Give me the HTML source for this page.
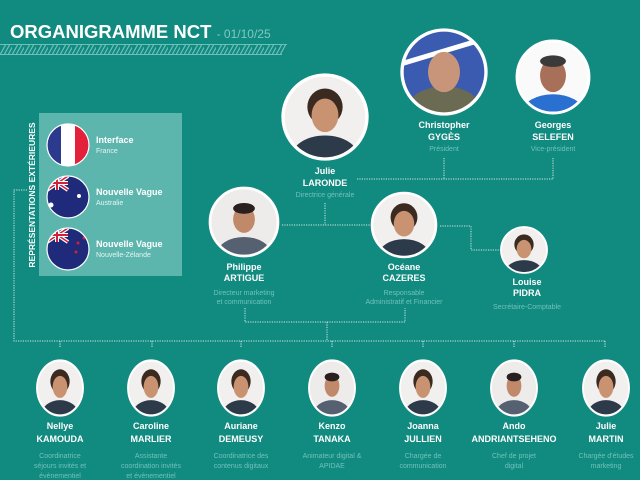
<!DOCTYPE html>
<html><head><meta charset="utf-8"><style>
html,body{margin:0;padding:0;background:#118a80;}
svg{display:block}
text{font-family:"Liberation Sans",sans-serif;}
.n{font-weight:bold;font-size:9px;fill:#fff;text-anchor:middle}
.r{font-size:7px;fill:#6fc3ba;text-anchor:middle}
.l{stroke:#cfe9e5;stroke-width:1;stroke-dasharray:1.2 1.2;fill:none}
</style></head><body>
<svg width="640" height="480" viewBox="0 0 640 480">
<defs>
<clipPath id="c"><circle r="50"/></clipPath>
<g id="pw"><g clip-path="url(#c)"><circle r="50" fill="#f2f0ee"/><ellipse cy="48" rx="40" ry="26" fill="#2d3a4a"/><ellipse cy="-12" rx="21" ry="22" fill="#3a2a20"/><ellipse cy="-2" rx="16" ry="20" fill="#c99372"/></g><circle r="50" fill="none" stroke="#fff" stroke-width="4"/></g>
<g id="pm"><g clip-path="url(#c)"><circle r="50" fill="#eeecea"/><ellipse cy="48" rx="40" ry="26" fill="#556070"/><ellipse cy="-4" rx="16" ry="20" fill="#c08a6a"/><ellipse cy="-20" rx="16" ry="8" fill="#2a2020"/></g><circle r="50" fill="none" stroke="#fff" stroke-width="4"/></g>
<pattern id="zz" width="12" height="11" patternUnits="userSpaceOnUse"><path d="M0 11 L6 0 M4 11 L10 0 M8 11 L14 0" stroke="#6cc0b8" stroke-width="1.2"/></pattern>
</defs>
<rect width="640" height="480" fill="#118a80"/>
<text x="10" y="38" font-size="18.5" font-weight="bold" fill="#fff">ORGANIGRAMME NCT <tspan font-size="12" font-weight="normal" fill="#7fcac2">- 01/10/25</tspan></text>
<polygon points="0,44 287,44 281,55 0,55" fill="url(#zz)"/>
<rect x="0" y="44" width="287" height="1" fill="#6cc0b8"/><rect x="0" y="54" width="282" height="1" fill="#6cc0b8"/>

<path class="l" d="M444 158V179M553 158V179M357 179H553"/>
<path class="l" d="M325 203V225M282 225H372"/>
<path class="l" d="M440 226H471V250H499"/>
<path class="l" d="M245 308V322H405V308M327 322V341"/>
<path class="l" d="M27 190H14V341H605M60 341V348M152 341V348M241 341V348M332 341V348M423 341V348M514 341V348M605 341V348"/>

<rect x="39" y="113" width="143" height="163" fill="#5db6ae"/>
<text transform="translate(35,195) rotate(-90)" font-size="8.5" font-weight="bold" fill="#fff" text-anchor="middle">REPRÉSENTATIONS EXTÉRIEURES</text>
<clipPath id="f1"><circle cx="68" cy="145" r="21"/></clipPath>
<g clip-path="url(#f1)"><rect x="47" y="124" width="14" height="42" fill="#2b3a8c"/><rect x="61" y="124" width="14" height="42" fill="#fff"/><rect x="75" y="124" width="14" height="42" fill="#e3213a"/></g>
<circle cx="68" cy="145" r="21" fill="none" stroke="#fff" stroke-width="1.2"/>
<clipPath id="f2"><circle cx="68" cy="197" r="21"/></clipPath>
<g clip-path="url(#f2)"><rect x="47" y="176" width="42" height="42" fill="#1f2a7a"/><path d="M47 176L68 190M68 176L47 190" stroke="#fff" stroke-width="4"/><path d="M47 176L68 190M68 176L47 190" stroke="#d3203a" stroke-width="1.5"/><path d="M57 176V190M47 183H68" stroke="#fff" stroke-width="4"/><path d="M57 176V190M47 183H68" stroke="#d3203a" stroke-width="2"/><circle cx="79" cy="196" r="2" fill="#fff"/><circle cx="51" cy="205" r="2.5" fill="#fff"/></g>
<circle cx="68" cy="197" r="21" fill="none" stroke="#fff" stroke-width="1.2"/>
<clipPath id="f3"><circle cx="68" cy="249" r="21"/></clipPath>
<g clip-path="url(#f3)"><rect x="47" y="228" width="42" height="42" fill="#1f2a7a"/><path d="M47 228L68 242M68 228L47 242" stroke="#fff" stroke-width="4"/><path d="M47 228L68 242M68 228L47 242" stroke="#d3203a" stroke-width="1.5"/><path d="M57 228V242M47 235H68" stroke="#fff" stroke-width="4"/><path d="M57 228V242M47 235H68" stroke="#d3203a" stroke-width="2"/><circle cx="78" cy="243" r="1.5" fill="#d3203a"/><circle cx="84" cy="238" r="1.5" fill="#d3203a"/><circle cx="76" cy="252" r="1.5" fill="#d3203a"/></g>
<circle cx="68" cy="249" r="21" fill="none" stroke="#fff" stroke-width="1.2"/>
<g font-size="9" font-weight="bold" fill="#fff"><text x="96" y="143">Interface</text><text x="96" y="195">Nouvelle Vague</text><text x="96" y="247">Nouvelle Vague</text></g>
<g font-size="7" fill="#e6f4f2"><text x="96" y="153">France</text><text x="96" y="205">Australie</text><text x="96" y="257">Nouvelle-Zélande</text></g>

<use href="#pw" transform="translate(325,117) scale(0.84)"/>
<g transform="translate(444,72) scale(0.84)"><g clip-path="url(#c)"><circle r="50" fill="#3a5bb0"/><path d="M-50 -10 L50 -40" stroke="#fff" stroke-width="6"/><ellipse cy="45" rx="44" ry="28" fill="#6b6a52"/><ellipse cy="0" rx="19" ry="24" fill="#c8957a"/></g><circle r="50" fill="none" stroke="#fff" stroke-width="4"/></g>
<g transform="translate(553,77) scale(0.72)"><g clip-path="url(#c)"><circle r="50" fill="#fafafa"/><ellipse cy="48" rx="42" ry="24" fill="#2a70d0"/><ellipse cy="-2" rx="18" ry="23" fill="#a87058"/><ellipse cy="-22" rx="18" ry="8" fill="#3a3a3a"/></g><circle r="50" fill="none" stroke="#fff" stroke-width="4"/></g>
<use href="#pm" transform="translate(244,222) scale(0.68)"/>
<use href="#pw" transform="translate(404,225) scale(0.64)"/>
<use href="#pw" transform="translate(524,250) scale(0.46)"/>

<text class="n" x="444" y="128">Christopher</text><text class="n" x="444" y="140">GYGÈS</text><text class="r" x="444" y="151">Président</text>
<text class="n" x="553" y="128">Georges</text><text class="n" x="553" y="140">SELEFEN</text><text class="r" x="553" y="151">Vice-président</text>
<text class="n" x="325" y="174">Julie</text><text class="n" x="325" y="186">LARONDE</text><text class="r" x="325" y="197">Directrice générale</text>
<text class="n" x="244" y="270">Philippe</text><text class="n" x="244" y="281">ARTIGUE</text><text class="r" x="244" y="295">Directeur marketing</text><text class="r" x="244" y="304">et communication</text>
<text class="n" x="404" y="270">Océane</text><text class="n" x="404" y="281">CAZERES</text><text class="r" x="404" y="295">Responsable</text><text class="r" x="404" y="304">Administratif et Financier</text>
<text class="n" x="527" y="285">Louise</text><text class="n" x="527" y="296">PIDRA</text><text class="r" x="527" y="309">Secrétaire-Comptable</text>

<use href="#pw" transform="translate(60,388) scale(0.46,0.55)"/>
<use href="#pw" transform="translate(151,388) scale(0.46,0.55)"/>
<use href="#pw" transform="translate(241,388) scale(0.46,0.55)"/>
<use href="#pm" transform="translate(332,388) scale(0.46,0.55)"/>
<use href="#pw" transform="translate(423,388) scale(0.46,0.55)"/>
<use href="#pm" transform="translate(514,388) scale(0.46,0.55)"/>
<use href="#pw" transform="translate(606,388) scale(0.46,0.55)"/>
<g>
<text class="n" x="60" y="429">Nellye</text><text class="n" x="60" y="442">KAMOUDA</text><text class="r" x="60" y="458">Coordinatrice</text><text class="r" x="60" y="468">séjours invités et</text><text class="r" x="60" y="478">évènementiel</text>
<text class="n" x="151" y="429">Caroline</text><text class="n" x="151" y="442">MARLIER</text><text class="r" x="151" y="458">Assistante</text><text class="r" x="151" y="468">coordination invités</text><text class="r" x="151" y="478">et évènementiel</text>
<text class="n" x="241" y="429">Auriane</text><text class="n" x="241" y="442">DEMEUSY</text><text class="r" x="241" y="458">Coordinatrice des</text><text class="r" x="241" y="468">contenus digitaux</text>
<text class="n" x="332" y="429">Kenzo</text><text class="n" x="332" y="442">TANAKA</text><text class="r" x="332" y="458">Animateur digital &amp;</text><text class="r" x="332" y="468">APIDAE</text>
<text class="n" x="423" y="429">Joanna</text><text class="n" x="423" y="442">JULLIEN</text><text class="r" x="423" y="458">Chargée de</text><text class="r" x="423" y="468">communication</text>
<text class="n" x="514" y="429">Ando</text><text class="n" x="514" y="442">ANDRIANTSEHENO</text><text class="r" x="514" y="458">Chef de projet</text><text class="r" x="514" y="468">digital</text>
<text class="n" x="606" y="429">Julie</text><text class="n" x="606" y="442">MARTIN</text><text class="r" x="606" y="458">Chargée d'études</text><text class="r" x="606" y="468">marketing</text>
</g>
</svg>
</body></html>
